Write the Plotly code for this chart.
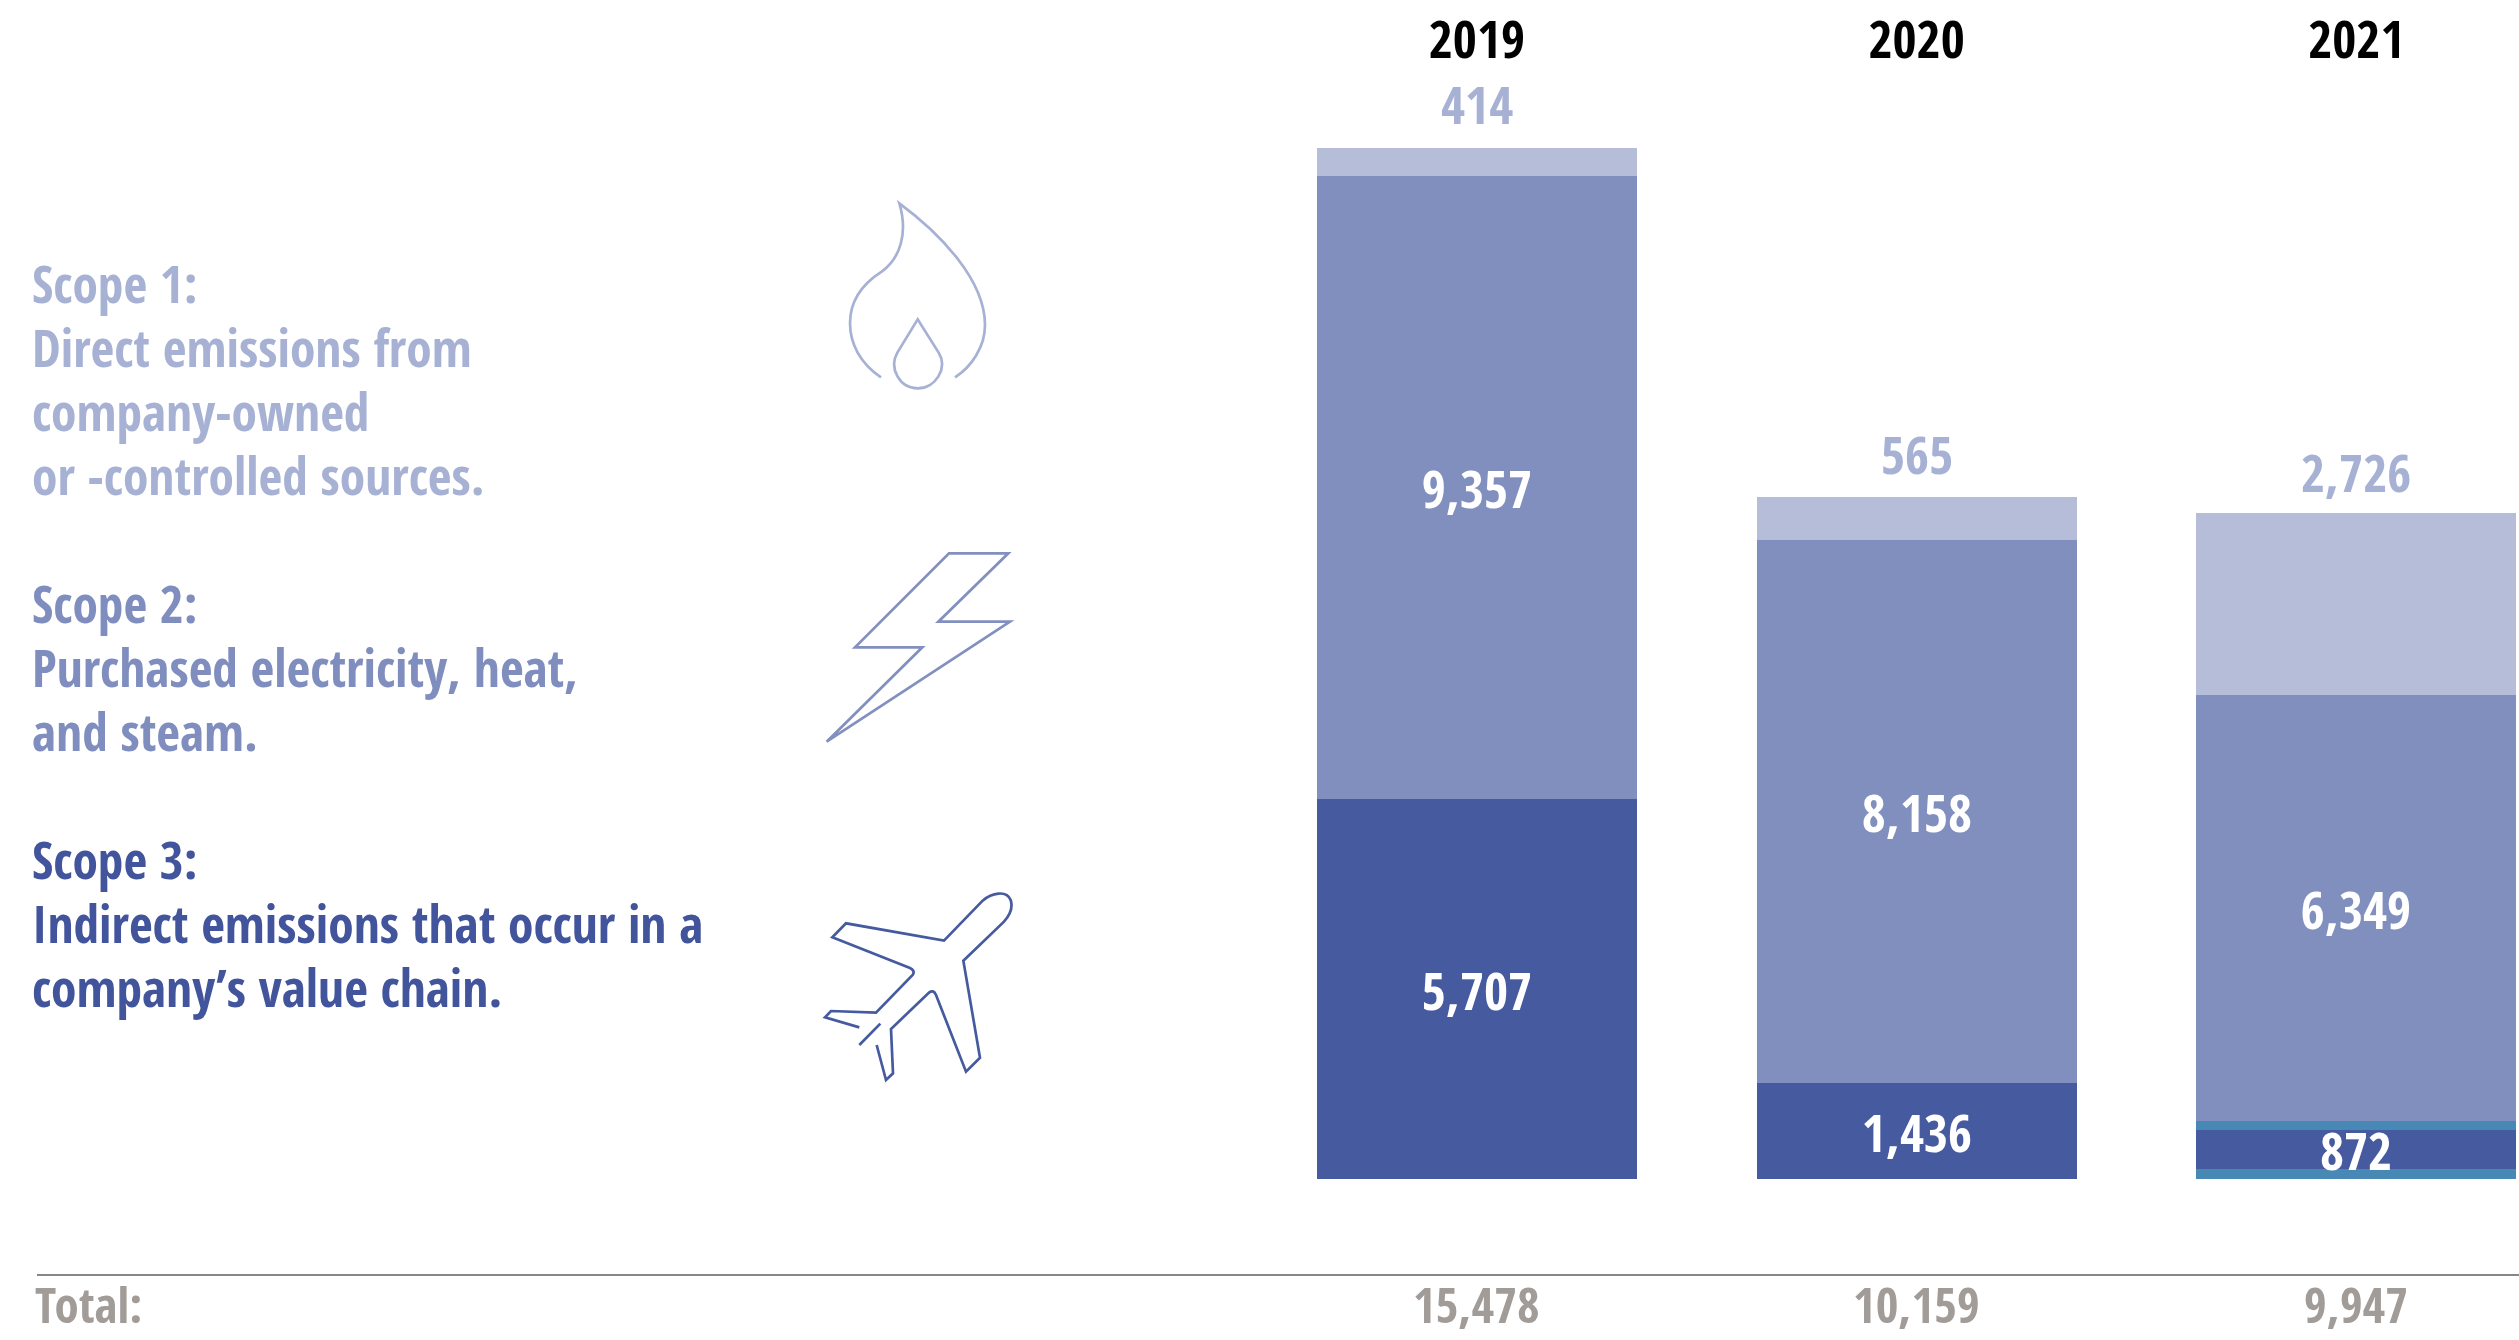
import plotly.graph_objects as go

years = ["2019", "2020", "2021"]
scope1 = [414, 645, 2726]
scope2 = [9357, 8158, 6400]
scope3 = [5707, 1436, 590]
band_low = [None, None, 150]
band_high = [None, None, 132]
labels1 = ["414", "565", "2,726"]
labels2 = ["9,357", "8,158", "6,349"]
labels3 = ["5,707", "1,436", "872"]
total_labels = ["15,478", "10,159", "9,947"]

W, H = 2519, 1340
TOP = 69
BASE_Y = 1179
SCALE = 0.06661
FONT = "Open Sans Condensed"
C1, C2, C3, TEAL = "#B5BDD9", "#808FBE", "#465A9F", "#4788B5"
T1, T2, T3 = "#A6B1D4", "#7F8EBE", "#42549B"
GREY = "#A29C99"
SZ = 52

scope1_text = ["Scope 1:", "Direct emissions from", "company-owned", "or -controlled sources."]
scope2_text = ["Scope 2:", "Purchased electricity, heat,", "and steam."]
scope3_text = ["Scope 3:", "Indirect emissions that occur in a", "company’s value chain."]

fig = go.Figure()
def bar(vals, color, text=None, tcolor="white"):
    fig.add_trace(go.Bar(x=years, y=vals, marker=dict(color=color, line=dict(width=0)), width=0.728,
                         text=text, textposition="inside" if text else None,
                         insidetextanchor="middle", constraintext="none", textangle=0, cliponaxis=False,
                         insidetextfont=dict(family=FONT, size=SZ, color=tcolor, weight=700)))
bar(band_low, TEAL)
bar(scope3, C3, labels3)
bar(band_high, TEAL)
bar(scope2, C2, labels2)
bar(scope1, C1)

def px(x): return x / W
def py(y): return (H - y) / (H - TOP)

anns = []
def text(x, y, s, color, anchor="left", xref="paper", size=SZ):
    anns.append(dict(x=x, y=y, xref=xref, yref="paper", text=s, showarrow=False, xanchor=anchor, yanchor="middle",
                     font=dict(family=FONT, size=size, color=color, weight=700)))

for lines, color, y0 in [(scope1_text, T1, 283), (scope2_text, T2, 603), (scope3_text, T3, 859)]:
    for i, s in enumerate(lines):
        text(px(30), py(y0 + i * 64), s, color, size=51.5)
text(px(33), py(1304), "Total:", GREY, size=49)
for i, lab in enumerate(total_labels):
    text(i, py(1304), lab, GREY, "center", "x", size=49)
tops = [a + b + c + (d or 0) + (e or 0) for a, b, c, d, e in zip(scope1, scope2, scope3, band_low, band_high)]
for i, (lab, t, sh) in enumerate(zip(labels1, tops, [7, 6, 4])):
    anns.append(dict(x=i, y=t, xref="x", yref="y", text=lab, showarrow=False, xanchor="center", yanchor="bottom",
                     yshift=sh, font=dict(family=FONT, size=SZ, color=T1, weight=700)))

def path(cmds, ox, oy):
    out = []
    for c in cmds:
        if isinstance(c, str):
            out.append(c); continue
        out.append(f"{px(ox + c[0] / 3):.5f},{py(oy + c[1] / 3):.5f}")
    return " ".join(out)

flame = ["M",(243,592),"C",(180,550),(150,490),(150,430),"C",(150,360),(190,310),(245,275),"C",(300,235),(325,160),(298,70),
         "C",(420,160),(555,300),(555,435),"C",(555,500),(515,560),(465,592)]
drop = ["M",(353,418),"L",(292,518),"C",(265,565),(300,625),(353,625),"C",(406,625),(445,565),(416,518),"Z"]
bolt = ["M",(447,70),"L",(625,70),"L",(415,275),"L",(630,275),"L",(80,635),"L",(367,352),"L",(165,352),"Z"]
plane = ["M",(178,502),"L",(75,472),"L",(93,453),"L",(228,458),"L",(338,345),"C",(345,335),(338,328),(330,324),
         "L",(97,232),"L",(138,190),"L",(432,242),"L",(548,122),"C",(575,98),(620,90),(632,120),"C",(640,145),(630,165),(612,185),
         "L",(490,302),"L",(540,593),"L",(498,635),"L",(408,405),"C",(403,392),(395,392),(388,397),"L",(273,507),"L",(279,640),
         "L",(258,660),"L",(230,555)]
plane2 = ["M",(178,555),"L",(241,491)]

shapes = []
for p, ox, oy, c in [(flame,800,180,T1),(drop,800,180,T1),(bolt,800,530,"#8290BF"),(plane,800,860,"#455A9F"),(plane2,800,860,"#455A9F")]:
    shapes.append(dict(type="path", xref="paper", yref="paper", path=path(p, ox, oy), line=dict(color=c, width=2.7), fillcolor="rgba(0,0,0,0)"))
shapes.append(dict(type="line", xref="paper", yref="paper", x0=px(37), x1=1, y0=py(1275), y1=py(1275), line=dict(color="#878787", width=2)))

fig.update_layout(
    width=W, height=H, margin=dict(l=0, r=0, t=TOP, b=0), barmode="stack", bargap=0,
    paper_bgcolor="white", plot_bgcolor="white", showlegend=False, annotations=anns, shapes=shapes,
    xaxis=dict(type="category", side="top", range=[-3.359, 2.37], showgrid=False, zeroline=False, showline=False, ticks="",
               tickfont=dict(family=FONT, size=SZ, color="black", weight=700)),
    yaxis=dict(range=[-(H - BASE_Y) / SCALE, (BASE_Y - TOP) / SCALE], visible=False, showgrid=False, zeroline=False),
)
fig.write_html("out.html", config={"displayModeBar": False}, post_script="document.body.style.margin='0';document.body.style.overflow='hidden';")
